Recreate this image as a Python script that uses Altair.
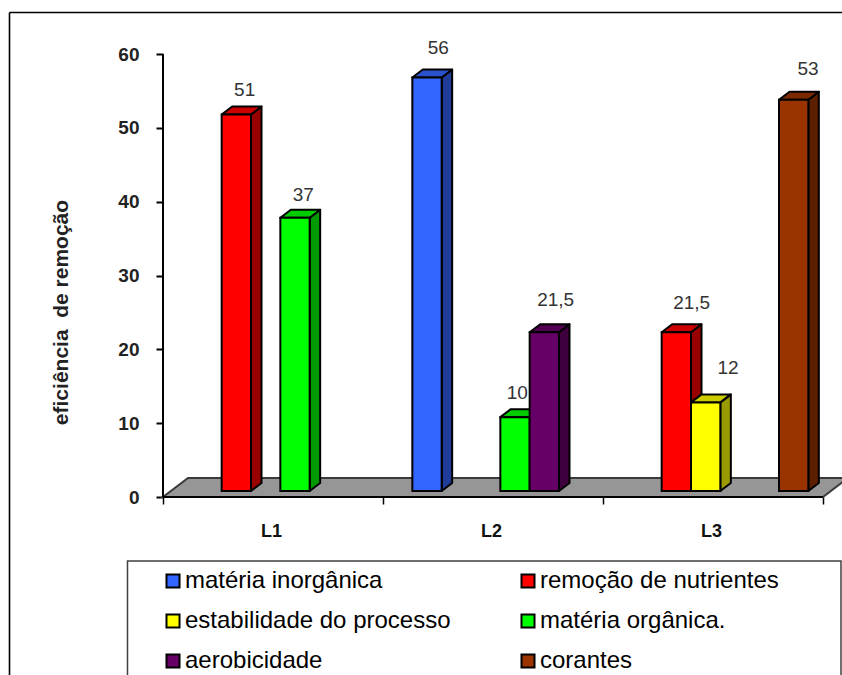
import altair as alt
import pandas as pd

# Removal efficiency by lagoon and by function of the system
categories = ["L1", "L2", "L3"]
series = [
    "matéria inorgânica",
    "remoção de nutrientes",
    "estabilidade do processo",
    "matéria orgânica.",
    "aerobicidade",
    "corantes",
]
bar_category = [0, 0, 1, 1, 1, 2, 2, 2]
bar_series = [1, 3, 0, 3, 4, 1, 2, 5]
bar_values = [51, 37, 56, 10, 21.5, 21.5, 12, 53]
bar_labels = ["51", "37", "56", "10", "21,5", "21,5", "12", "53"]

front_colors = ["#3366FF", "#FF0000", "#FFFF00", "#00FF00", "#660066", "#993300"]
top_colors = ["#2952CC", "#CC0000", "#CCCC00", "#00CC00", "#520052", "#7A2900"]
side_colors = ["#1F3D99", "#990000", "#999900", "#009900", "#3D003D", "#5C1F00"]

# Pixel offset of each value label from the top-left corner of its bar
label_dx = [23, 23, 26, 17, 26, 30, 37, 29]
label_dy = [-24, -23, -30, -24, -32, -29, -34, -31]

W, H = 842, 675
X0, CAT_PX = 163, 220      # left end of the category axis, width of a category
Y0, UNIT_PX = 497, 7.383   # pixel row of value 0, pixels per value unit

SLOT = 1 / 7.5             # bar width in category units
DEPTH_X = 10.5 / CAT_PX
DEPTH_Y = 8 / UNIT_PX
BASE = 6 / UNIT_PX         # bars stand slightly in front of the floor edge
FLOOR_X = 25 / CAT_PX
FLOOR_Y = 19 / UNIT_PX

x_scale = alt.Scale(domain=[-X0 / CAT_PX, (W - X0) / CAT_PX], range=[0, W], nice=False)
y_scale = alt.Scale(domain=[(Y0 - H) / UNIT_PX, Y0 / UNIT_PX], range=[H, 0], nice=False, zero=False)

fronts, sides, tops, labels = [], [], [], []
for i, (c, s, v, text) in enumerate(zip(bar_category, bar_series, bar_values, bar_labels)):
    left = c + (s + 1) * SLOT
    right = left + SLOT
    top = v + BASE
    fronts.append(dict(x=left, x2=right, y=BASE, y2=top, serie=series[s]))
    for px, lo, hi in [(right, BASE, top), (right + DEPTH_X, BASE + DEPTH_Y, top + DEPTH_Y)]:
        sides.append(dict(bar=i, x=px, y=lo, y2=hi, fill=side_colors[s]))
    for px, lo, hi in [
        (left, top, top),
        (left + DEPTH_X, top, top + DEPTH_Y),
        (right, top, top + DEPTH_Y),
        (right + DEPTH_X, top + DEPTH_Y, top + DEPTH_Y),
    ]:
        tops.append(dict(bar=i, x=px, y=lo, y2=hi, fill=top_colors[s]))
    labels.append(dict(
        x=left + label_dx[i] / CAT_PX,
        y=top - label_dy[i] / UNIT_PX,
        text=text,
    ))

floor = pd.DataFrame([
    dict(x=0, y=0, y2=0),
    dict(x=FLOOR_X, y=0, y2=FLOOR_Y),
    dict(x=len(categories), y=0, y2=FLOOR_Y),
    dict(x=len(categories) + FLOOR_X, y=FLOOR_Y, y2=FLOOR_Y),
])

X = alt.X("x:Q", scale=x_scale, title=None,
          axis=alt.Axis(values=[0, 1, 2, 3], labels=False, domain=False, grid=False,
                        tickSize=7, tickWidth=1.5, tickColor="black",
                        offset=-(H - Y0)))
Y = alt.Y("y:Q", scale=y_scale, title="eficiência\u00a0\u00a0de remoção",
          axis=alt.Axis(values=[0, 10, 20, 30, 40, 50, 60], domain=False, grid=False,
                        offset=-X0, tickSize=7, tickWidth=2, tickColor="black",
                        labelFont="Liberation Sans", labelFontWeight="bold",
                        labelFontSize=19, labelColor="#222222", labelPadding=17,
                        titleFont="Liberation Sans", titleFontWeight="bold",
                        titleFontSize=21, titleColor="#222222",
                        titleX=71 - X0, titleY=312, titleAlign="center"))

floor_layer = alt.Chart(floor).mark_area(
    orient="vertical", fill="#969696", stroke="#3A3A3A", strokeWidth=2
).encode(x=X, y=Y, y2="y2:Q")

frame_box = alt.Chart().mark_rule(color="black", strokeWidth=1.6).encode(
    x=alt.value(9.5), y=alt.value(12.5), y2=alt.value(H + 5))
frame_top = alt.Chart().mark_rule(color="black", strokeWidth=1.6).encode(
    x=alt.value(9.5), x2=alt.value(W + 5), y=alt.value(12.5))

axis_y_line = alt.Chart(pd.DataFrame({"x": [0], "y": [0], "y2": [60]})).mark_rule(
    color="black", strokeWidth=2
).encode(x=X, y=Y, y2="y2:Q")
axis_x_line = alt.Chart(pd.DataFrame({"x": [0], "x2": [3], "y": [0]})).mark_rule(
    color="black", strokeWidth=2
).encode(x=X, x2="x2:Q", y=Y)

side_layer = alt.Chart(pd.DataFrame(sides)).mark_area(
    orient="vertical", stroke="black", strokeWidth=2, strokeJoin="round"
).encode(x=X, y=Y, y2="y2:Q", detail="bar:N", fill=alt.Fill("fill:N", scale=None))
top_layer = alt.Chart(pd.DataFrame(tops)).mark_area(
    orient="vertical", stroke="black", strokeWidth=2, strokeJoin="round"
).encode(x=X, y=Y, y2="y2:Q", detail="bar:N", fill=alt.Fill("fill:N", scale=None))
front_layer = alt.Chart(pd.DataFrame(fronts)).mark_bar(
    stroke="black", strokeWidth=2, opacity=1
).encode(
    x=X, x2="x2:Q", y=Y, y2="y2:Q",
    color=alt.Color(
        "serie:N",
        scale=alt.Scale(domain=series, range=front_colors),
        sort=series,
        legend=alt.Legend(
            title=None, orient="none", legendX=161, legendY=569, columns=2,
            direction="horizontal",
            symbolType="square", symbolSize=170, symbolStrokeColor="black",
            symbolStrokeWidth=2, symbolOpacity=1, labelFont="Liberation Sans",
            labelFontSize=24, labelColor="black", labelOffset=0,
            rowPadding=16, columnPadding=65, labelLimit=320, padding=0,
        ),
    ),
)

label_layer = alt.Chart(pd.DataFrame(labels)).mark_text(
    font="Liberation Sans", fontSize=19, color="#333333", baseline="middle", align="center"
).encode(x=X, y=Y, text="text:N")

cat_df = pd.DataFrame({"x": [i + 0.5 - 1.5 / CAT_PX for i in range(len(categories))], "cat": categories})
cat_layer = alt.Chart(cat_df).mark_text(
    font="Liberation Sans", fontSize=18, fontWeight="bold", color="#111111", baseline="middle"
).encode(x=X, y=alt.value(532), text="cat:N")

legend_box = alt.Chart().mark_rect(fill="white", stroke="#404040", strokeWidth=1.5).encode(
    x=alt.value(127.5), x2=alt.value(841), y=alt.value(561), y2=alt.value(H + 10))

chart = alt.layer(
    frame_box, frame_top, floor_layer, axis_y_line, axis_x_line,
    side_layer, top_layer, front_layer, label_layer, cat_layer, legend_box,
).properties(
    width=W, height=H, padding=0, background="white",
    autosize=alt.AutoSizeParams(type="none"),
).configure_view(stroke=None)

chart.save("out.html", embed_options={"renderer": "svg", "actions": False})
